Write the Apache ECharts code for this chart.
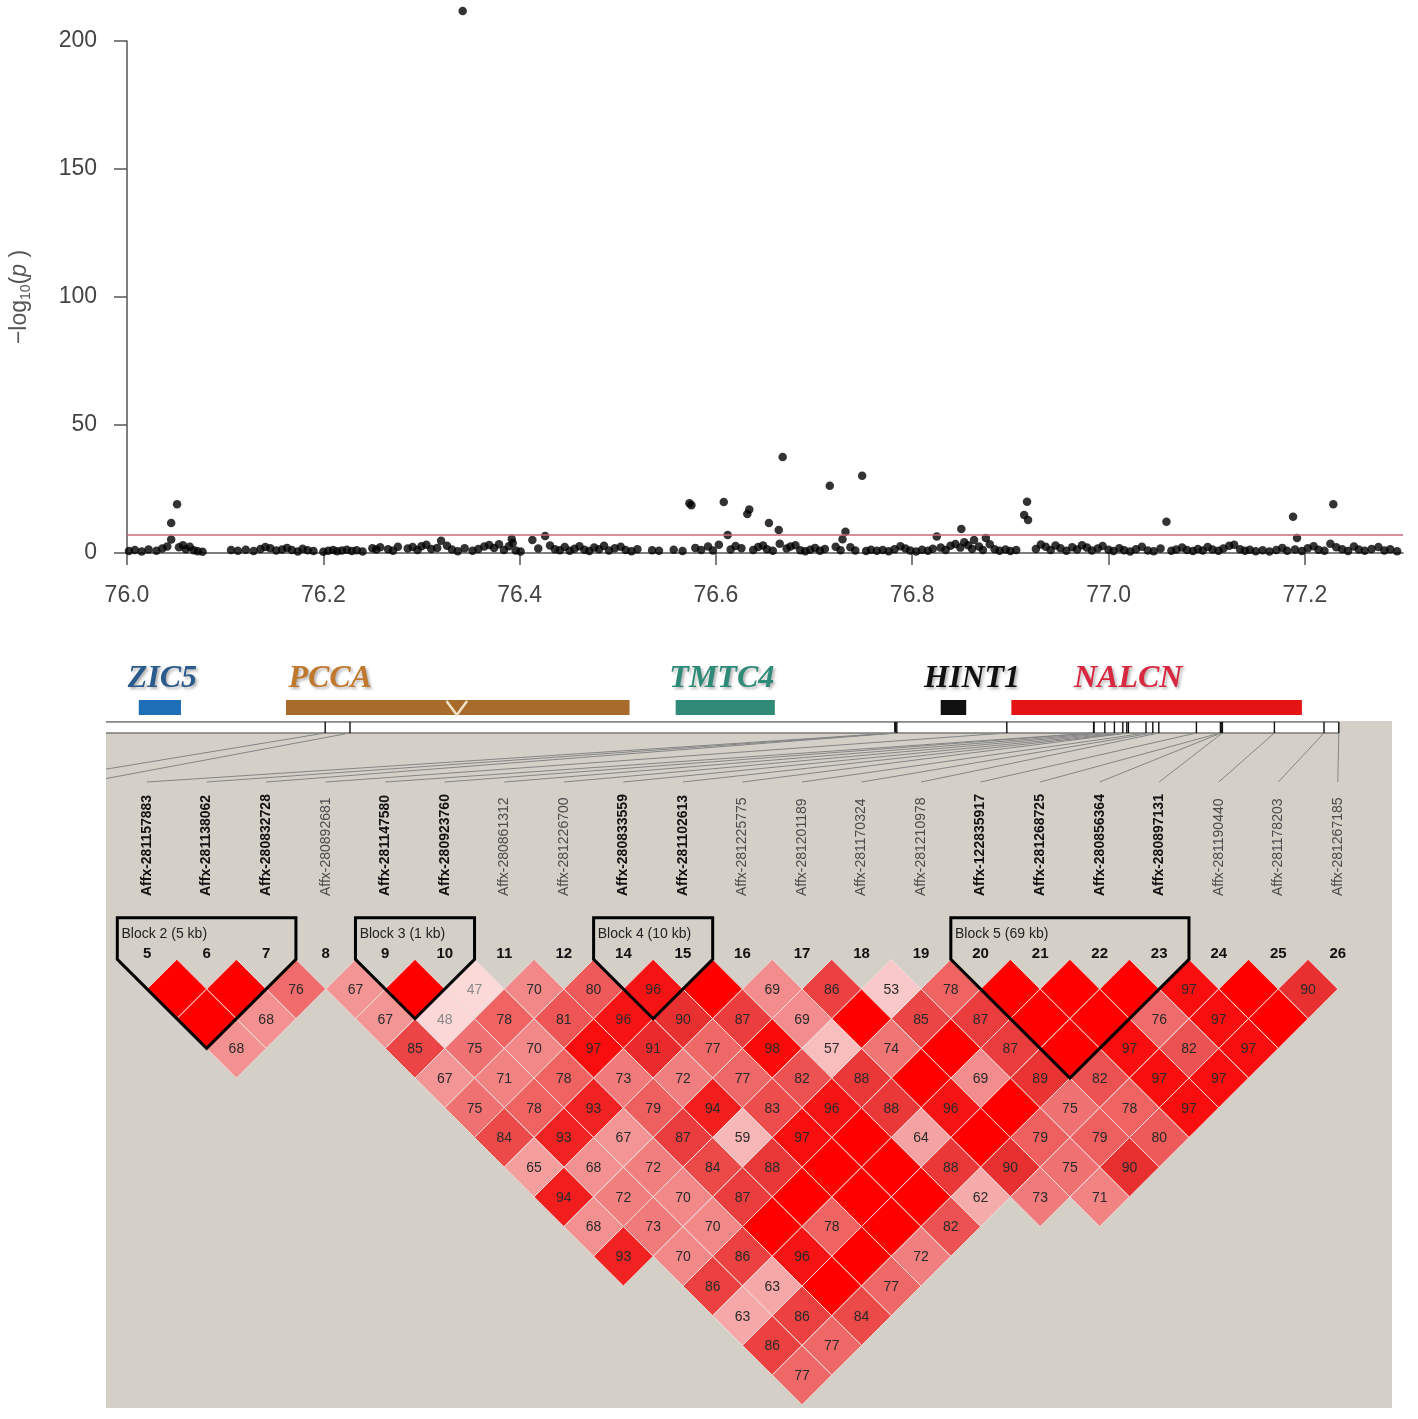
<!DOCTYPE html>
<html>
<head>
<meta charset="utf-8">
<title>Regional association and LD</title>
<script src="https://cdn.jsdelivr.net/npm/echarts@6/dist/echarts.min.js"></script>
<style>
  html, body { margin: 0; padding: 0; background: #fff; }
  #main { width: 1418px; height: 1419px; }
</style>
</head>
<body>
<div id="main"></div>
<script>
// ---- association scan: [position (Mb), -log10(p)] ----
var snps = [
  [76.002,0.8],[76.008,1.2],[76.015,0.6],[76.022,1.4],[76.030,0.9],[76.036,1.8],[76.041,2.5],
  [76.045,5.3],[76.045,11.7],[76.051,19.0],
  [76.053,2.2],[76.057,3.0],[76.060,1.5],[76.064,2.4],[76.068,1.1],[76.072,0.7],[76.077,0.5],
  [76.106,1.2],[76.113,0.9],[76.121,1.3],[76.129,0.8],[76.136,1.6],[76.141,2.3],[76.146,1.9],
  [76.152,1.0],[76.158,1.4],[76.163,2.0],[76.168,1.2],[76.174,0.6],[76.179,1.7],[76.184,1.1],[76.190,0.8],
  [76.200,0.5],[76.205,0.9],[76.210,1.2],[76.214,0.7],[76.219,1.0],[76.224,1.3],[76.229,0.8],[76.234,1.1],
  [76.240,0.6],[76.250,1.9],[76.254,1.4],[76.258,2.2],[76.266,1.5],[76.271,0.9],[76.276,2.4],
  [76.286,1.8],[76.291,2.3],[76.296,1.2],[76.300,2.6],[76.305,3.2],[76.310,1.6],[76.316,2.0],[76.320,4.8],
  [76.326,2.8],[76.331,1.4],[76.337,0.7],[76.342,211.7],[76.344,1.9],
  [76.352,0.9],[76.358,1.6],[76.364,2.5],[76.369,3.1],[76.374,2.0],[76.379,3.4],[76.384,1.2],[76.389,2.6],
  [76.392,5.5],[76.393,3.9],[76.396,1.0],[76.401,0.6],[76.413,5.1],[76.419,1.8],[76.426,6.6],
  [76.431,2.9],[76.436,1.5],[76.441,1.1],[76.446,2.3],[76.451,0.9],[76.456,1.7],[76.461,2.6],[76.466,1.3],
  [76.471,0.8],[76.476,2.1],[76.481,1.5],[76.486,2.8],[76.491,1.0],[76.497,1.9],[76.503,2.4],[76.508,1.2],
  [76.514,0.7],[76.520,1.5],[76.535,1.1],[76.542,0.9],[76.557,1.3],[76.566,0.8],
  [76.573,19.4],[76.575,18.7],[76.579,2.0],[76.585,1.2],[76.592,2.5],[76.597,1.0],[76.603,3.2],
  [76.608,19.9],[76.612,7.0],[76.615,1.4],[76.620,2.7],[76.626,1.9],[76.632,15.2],[76.634,17.0],
  [76.638,1.2],[76.643,2.3],[76.648,2.9],[76.652,1.5],[76.654,11.7],[76.658,0.9],[76.664,9.0],[76.665,3.6],
  [76.668,37.5],[76.672,1.8],[76.676,2.5],[76.681,3.0],[76.686,1.1],[76.691,0.7],[76.696,1.3],[76.701,2.0],
  [76.706,0.9],[76.711,1.6],[76.716,26.3],[76.722,2.4],[76.727,1.1],[76.729,5.4],[76.732,8.3],[76.737,2.2],
  [76.742,1.0],[76.749,30.2],[76.753,0.8],[76.758,1.3],[76.764,0.9],[76.770,1.2],[76.776,0.7],[76.782,1.5],
  [76.788,2.6],[76.793,1.8],[76.798,1.0],[76.804,0.6],[76.810,1.3],[76.816,0.9],[76.821,1.7],[76.825,6.4],
  [76.829,2.1],[76.834,1.2],[76.839,2.8],[76.844,3.5],[76.849,2.1],[76.850,9.4],[76.853,4.2],[76.857,3.0],
  [76.861,1.6],[76.863,5.1],[76.868,2.5],[76.872,1.2],[76.875,5.9],[76.879,3.4],[76.884,1.5],[76.889,0.9],
  [76.895,1.4],[76.900,0.8],[76.906,1.2],[76.914,14.8],[76.917,20.0],[76.918,12.9],
  [76.926,1.6],[76.931,3.3],[76.936,2.4],[76.941,1.2],[76.946,2.9],[76.951,1.9],[76.957,0.9],[76.963,2.2],
  [76.968,1.4],[76.973,3.0],[76.978,2.1],[76.983,1.0],[76.989,1.8],[76.994,2.7],[77.000,1.3],[77.005,0.8],
  [77.011,1.9],[77.016,1.1],[77.022,0.6],[77.028,1.5],[77.034,2.4],[77.040,1.0],[77.046,0.7],
  [77.053,1.8],[77.059,12.2],[77.064,0.9],[77.069,1.4],[77.075,2.1],[77.080,1.2],[77.086,0.8],[77.091,1.6],
  [77.096,1.0],[77.101,2.3],[77.106,1.4],[77.112,0.9],[77.117,1.8],[77.123,2.8],[77.128,3.2],[77.134,1.5],
  [77.139,0.9],[77.144,1.3],[77.150,0.7],[77.157,1.1],[77.164,0.6],[77.171,1.2],[77.177,2.0],[77.182,0.9],
  [77.188,14.2],[77.190,1.4],[77.192,5.9],[77.197,0.8],[77.203,1.9],[77.209,2.6],[77.214,1.3],[77.220,0.9],
  [77.226,3.6],[77.229,19.0],[77.232,2.2],[77.238,1.5],[77.244,0.8],[77.250,2.5],[77.255,1.4],[77.261,0.9],
  [77.268,1.6],[77.275,2.3],[77.281,1.0],[77.287,1.5],[77.294,0.7]
];
var threshold = 7.3;
var xTicks = [76.0, 76.2, 76.4, 76.6, 76.8, 77.0, 77.2];
var yTicks = [0, 50, 100, 150, 200];

// ---- genes (Mb) ----
var geneNames = ['ZIC5', 'PCCA', 'TMTC4', 'HINT1', 'NALCN'];
var geneStart = [76.012, 76.162, 76.559, 76.829, 76.901];
var geneEnd   = [76.055, 76.512, 76.660, 76.855, 77.197];
var geneLabelMb = [76.036, 76.207, 76.606, 76.861, 77.020];
var geneBarColors  = ['#1f6eb8', '#a86b2c', '#2f8a78', '#111111', '#e41414'];
var geneTextColors = ['#2b5a8c', '#c0772e', '#2f8a78', '#111111', '#d82840'];
var pccaNotchMb = 76.336;

// ---- LD markers ----
var markerIds = [5, 6, 7, 8, 9, 10, 11, 12, 14, 15, 16, 17, 18, 19, 20, 21, 22, 23, 24, 25, 26];
var markerNames = [
  'Affx-281157883', 'Affx-281138062', 'Affx-280832728', 'Affx-280892681', 'Affx-281147580',
  'Affx-280923760', 'Affx-280861312', 'Affx-281226700', 'Affx-280833559', 'Affx-281102613',
  'Affx-281225775', 'Affx-281201189', 'Affx-281170324', 'Affx-281210978', 'Affx-122835917',
  'Affx-281268725', 'Affx-280856364', 'Affx-280897131', 'Affx-281190440', 'Affx-281178203',
  'Affx-281267185'
];
// position of each marker along the map strip
var markerMapPos = [1972, 1974, 1977, 2252, 2469, 2470, 2497, 2521, 2542, 2552, 2556,
                    2600, 2617, 2632, 2726, 2786, 2788, 2791, 2921, 3045, 3082];
// markers 3 and 4 sit left of the shown range (columns -2 and -1)
var leftMarkerCols = [-2, -1];
var leftMarkerPos = [548, 610];

// D' (x100) between marker pairs; 100 = drawn without a number
var ldPairs = [
  [5,6,100],[6,7,100],[7,8,76],[8,9,67],[9,10,100],[10,11,47],[11,12,70],[12,14,80],[14,15,96],[15,16,100],
  [16,17,69],[17,18,86],[18,19,53],[19,20,78],[20,21,100],[21,22,100],[22,23,100],[23,24,97],[24,25,100],[25,26,90],
  [5,7,100],[6,8,68],[8,10,67],[9,11,48],[10,12,78],[11,14,81],[12,15,96],[14,16,90],[15,17,87],[16,18,69],
  [17,19,100],[18,20,85],[19,21,87],[20,22,100],[21,23,100],[22,24,76],[23,25,97],[24,26,100],
  [5,8,68],[8,11,85],[9,12,75],[10,14,70],[11,15,97],[12,16,91],[14,17,77],[15,18,98],[16,19,57],[17,20,74],
  [18,21,100],[19,22,87],[20,23,100],[21,24,97],[22,25,82],[23,26,97],
  [8,12,67],[9,14,71],[10,15,78],[11,16,73],[12,17,72],[14,18,77],[15,19,82],[16,20,88],[17,21,100],[18,22,69],
  [19,23,89],[20,24,82],[21,25,97],[22,26,97],
  [8,14,75],[9,15,78],[10,16,93],[11,17,79],[12,18,94],[14,19,83],[15,20,96],[16,21,88],[17,22,96],[18,23,100],
  [19,24,75],[20,25,78],[21,26,97],
  [8,15,84],[9,16,93],[10,17,67],[11,18,87],[12,19,59],[14,20,97],[15,21,100],[16,22,64],[17,23,100],[18,24,79],
  [19,25,79],[20,26,80],
  [8,16,65],[9,17,68],[10,18,72],[11,19,84],[12,20,88],[14,21,100],[15,22,100],[16,23,88],[17,24,90],[18,25,75],
  [19,26,90],
  [8,17,94],[9,18,72],[10,19,70],[11,20,87],[12,21,100],[14,22,100],[15,23,100],[16,24,62],[17,25,73],[18,26,71],
  [8,18,68],[9,19,73],[10,20,70],[11,21,100],[12,22,78],[14,23,100],[15,24,82],
  [8,19,93],[9,20,70],[10,21,86],[11,22,96],[12,23,100],[14,24,72],
  [9,21,86],[10,22,63],[11,23,100],[12,24,77],
  [9,22,63],[10,23,86],[11,24,84],
  [9,23,86],[10,24,77],
  [9,24,77]
];
var blockNames = ['Block 2 (5 kb)', 'Block 3 (1 kb)', 'Block 4 (10 kb)', 'Block 5 (69 kb)'];
var blockFirst = [5, 9, 14, 20];
var blockLast  = [7, 10, 15, 23];

// ---- layout of the LD panel (axis units) ----
var colMin = -0.69, colMax = 20.91;
var rowMin = -8.024, rowMax = 15.108;
var mapMin = 0, mapMax = 3215;
var ROW_STRIP_TOP = -7.99, ROW_STRIP_BOTTOM = -7.62, ROW_LINK_END = -5.97;
var ROW_NAME = -2.13, ROW_NUMBER = -0.2, ROW_BLOCK_TOP = -1.4, ROW_BLOCK_TITLE = -0.85;
var SANS = '"Liberation Sans", Arial, sans-serif';

function colIndex(id) { return markerIds.indexOf(id); }
function colToMap(k) { return mapMin + (k - colMin) * (mapMax - mapMin) / (colMax - colMin); }

var inBlock = markerIds.map(function (id) {
  for (var i = 0; i < blockFirst.length; i++) {
    if (id >= blockFirst[i] && id <= blockLast[i]) return true;
  }
  return false;
});

var cellData = ldPairs.map(function (p) { return [colIndex(p[0]), colIndex(p[1]), p[2]]; });
var linkData = [];
leftMarkerPos.forEach(function (pos, i) { linkData.push([pos, leftMarkerCols[i]]); });
markerMapPos.forEach(function (pos, k) { linkData.push([pos, k]); });

var myChart = echarts.init(document.getElementById('main'), null, { renderer: 'canvas' });

myChart.setOption({
  animation: false,
  backgroundColor: '#ffffff',
  grid: [
    { left: 127, right: 15, top: 41, bottom: 866, outerBoundsMode: 'none' },
    { left: 127, right: 15, top: 660, height: 60, outerBoundsMode: 'none' },
    { left: 106, top: 721, width: 1286, height: 687, show: true, backgroundColor: '#d4d0c8', borderWidth: 0, outerBoundsMode: 'none' }
  ],
  xAxis: [
    {
      gridIndex: 0, type: 'value', min: 76.0, max: 77.3, interval: 0.2,
      axisLine: { onZero: false, lineStyle: { color: '#555', width: 1.5 } },
      axisTick: { length: 12, customValues: xTicks, lineStyle: { color: '#555', width: 1.5 } },
      axisLabel: {
        margin: 31, customValues: xTicks, color: '#444', fontSize: 23, fontFamily: SANS,
        formatter: function (v) { return v.toFixed(1); }
      },
      splitLine: { show: false }
    },
    { gridIndex: 1, type: 'value', min: 76.0, max: 77.3, show: false },
    { gridIndex: 2, type: 'value', min: colMin, max: colMax, show: false },
    { gridIndex: 2, type: 'value', min: mapMin, max: mapMax, show: false }
  ],
  yAxis: [
    {
      gridIndex: 0, type: 'value', min: 0, max: 200, interval: 50,
      name: '{n|\u2212log}{s|10}{n|(}{i|p}{n| )}',
      nameLocation: 'middle', nameGap: 94, nameRotate: 90,
      nameTextStyle: {
        rich: {
          n: { fontSize: 23, color: '#555', fontFamily: SANS },
          s: { fontSize: 14, color: '#555', fontFamily: SANS, verticalAlign: 'bottom', lineHeight: 26 },
          i: { fontSize: 23, color: '#555', fontFamily: SANS, fontStyle: 'italic' }
        }
      },
      axisLine: { show: true, lineStyle: { color: '#555', width: 1.5 } },
      axisTick: { show: true, length: 13, customValues: yTicks, lineStyle: { color: '#555', width: 1.5 } },
      axisLabel: { margin: 30, customValues: yTicks, color: '#444', fontSize: 23, fontFamily: SANS },
      splitLine: { show: false }
    },
    { gridIndex: 1, type: 'value', min: 0, max: 60, inverse: true, show: false },
    { gridIndex: 2, type: 'value', min: rowMin, max: rowMax, inverse: true, show: false }
  ],
  visualMap: {
    type: 'continuous', show: false, seriesIndex: 4, dimension: 2, min: 40, max: 100,
    inRange: { color: ['#fdeaea', '#fad2d2', '#f7b4b4', '#f28888', '#ee5a5a', '#e93030', '#ff0000'] }
  },
  series: [
    {
      type: 'scatter', xAxisIndex: 0, yAxisIndex: 0, data: snps, clip: false,
      symbolSize: 8.5, itemStyle: { color: '#000' },
      markLine: {
        silent: true, symbol: 'none', label: { show: false },
        lineStyle: { color: '#c96a7a', width: 1.6, type: 'solid' },
        data: [{ yAxis: threshold }]
      }
    },
    {
      type: 'custom', xAxisIndex: 1, yAxisIndex: 1,
      data: geneNames.map(function (n, i) { return [geneStart[i], geneEnd[i], geneLabelMb[i]]; }),
      renderItem: function (params, api) {
        var i = params.dataIndex;
        var a = api.coord([api.value(0), 40]);
        var b = api.coord([api.value(1), 55]);
        var t = api.coord([api.value(2), 18.5]);
        var kids = [
          { type: 'rect', shape: { x: a[0], y: a[1], width: b[0] - a[0], height: b[1] - a[1] },
            style: { fill: geneBarColors[i] } },
          { type: 'text', x: t[0], y: t[1], style: {
              text: geneNames[i], fill: geneTextColors[i], fontSize: 32, fontWeight: 'bold', fontStyle: 'italic',
              fontFamily: '"Liberation Serif", "Times New Roman", serif', align: 'center', verticalAlign: 'middle',
              textShadowColor: 'rgba(0,0,0,0.3)', textShadowBlur: 3, textShadowOffsetX: 2, textShadowOffsetY: 2 } }
        ];
        if (geneNames[i] === 'PCCA') {
          var l = api.coord([pccaNotchMb - 0.0105, 41]);
          var m = api.coord([pccaNotchMb, 55]);
          var r = api.coord([pccaNotchMb + 0.0105, 41]);
          kids.push({ type: 'polyline', shape: { points: [l, m, r] },
            style: { stroke: '#efe2c6', lineWidth: 2.5, fill: null } });
        }
        return { type: 'group', children: kids };
      }
    },
    {
      // marker map strip
      type: 'custom', xAxisIndex: 3, yAxisIndex: 2, clip: true,
      data: [[mapMin, markerMapPos[markerMapPos.length - 1]]],
      renderItem: function (params, api) {
        var a = api.coord([api.value(0), ROW_STRIP_TOP]);
        var b = api.coord([api.value(1), ROW_STRIP_BOTTOM]);
        return { type: 'group', children: [
          { type: 'rect', shape: { x: a[0], y: a[1], width: b[0] - a[0], height: b[1] - a[1] },
            style: { fill: '#ffffff' } },
          { type: 'line', shape: { x1: a[0], y1: a[1], x2: b[0], y2: a[1] }, style: { stroke: '#444', lineWidth: 1 } },
          { type: 'line', shape: { x1: a[0], y1: b[1], x2: b[0], y2: b[1] }, style: { stroke: '#444', lineWidth: 1 } }
        ] };
      }
    },
    {
      // marker ticks and links to columns
      type: 'custom', xAxisIndex: 3, yAxisIndex: 2, clip: true,
      data: linkData,
      renderItem: function (params, api) {
        var pos = api.value(0), k = api.value(1);
        var t0 = api.coord([pos, ROW_STRIP_TOP]);
        var t1 = api.coord([pos, ROW_STRIP_BOTTOM]);
        var e = api.coord([colToMap(k), ROW_LINK_END]);
        return { type: 'group', children: [
          { type: 'line', shape: { x1: t1[0], y1: t1[1], x2: e[0], y2: e[1] }, style: { stroke: '#858585', lineWidth: 1 } },
          { type: 'line', shape: { x1: t0[0], y1: t0[1], x2: t1[0], y2: t1[1] }, style: { stroke: '#111', lineWidth: 1.4 } }
        ] };
      }
    },
    {
      // LD cells
      type: 'custom', xAxisIndex: 2, yAxisIndex: 2,
      data: cellData,
      renderItem: function (params, api) {
        var a = api.value(0), b = api.value(1), d = api.value(2);
        var cx = (a + b) / 2, r = b - a;
        var pts = [api.coord([cx, r - 1]), api.coord([cx + 0.5, r]), api.coord([cx, r + 1]), api.coord([cx - 0.5, r])];
        var c = api.coord([cx, r]);
        var kids = [{ type: 'polygon', shape: { points: pts },
          style: { fill: api.visual('color'), stroke: '#ecdcdc', lineWidth: 1 } }];
        if (d < 100) {
          kids.push({ type: 'text', x: c[0], y: c[1] + 1, style: {
            text: String(d), fill: d < 50 ? '#8a8a8a' : '#2a2a2a', fontSize: 14, fontFamily: SANS,
            align: 'center', verticalAlign: 'middle' } });
        }
        return { type: 'group', children: kids };
      }
    },
    {
      // marker numbers and names
      type: 'custom', xAxisIndex: 2, yAxisIndex: 2,
      data: markerIds.map(function (id, k) { return [k, 0]; }),
      renderItem: function (params, api) {
        var k = params.dataIndex;
        var n = api.coord([k, ROW_NUMBER]);
        var s = api.coord([k, ROW_NAME]);
        var bold = inBlock[k];
        return { type: 'group', children: [
          { type: 'text', x: n[0], y: n[1], style: {
              text: String(markerIds[k]), fill: '#111', fontSize: 15, fontWeight: 'bold', fontFamily: SANS,
              align: 'center', verticalAlign: 'middle' } },
          { type: 'text', x: s[0], y: s[1], rotation: Math.PI / 2, style: {
              text: markerNames[k], fill: bold ? '#111' : '#4a4a4a', fontSize: 14,
              fontWeight: bold ? 'bold' : 'normal', fontFamily: SANS,
              align: 'left', verticalAlign: 'middle' } }
        ] };
      }
    },
    {
      // haplotype block outlines
      type: 'custom', xAxisIndex: 2, yAxisIndex: 2,
      data: blockNames.map(function (n, i) { return [colIndex(blockFirst[i]), colIndex(blockLast[i])]; }),
      renderItem: function (params, api) {
        var a = api.value(0), b = api.value(1);
        var pts = [
          api.coord([a - 0.5, ROW_BLOCK_TOP]), api.coord([b + 0.5, ROW_BLOCK_TOP]),
          api.coord([b + 0.5, 0]), api.coord([(a + b) / 2, b - a + 1]), api.coord([a - 0.5, 0])
        ];
        var t = api.coord([a - 0.43, ROW_BLOCK_TITLE]);
        return { type: 'group', children: [
          { type: 'polygon', shape: { points: pts }, style: { fill: null, stroke: '#000', lineWidth: 3, lineJoin: 'miter' } },
          { type: 'text', x: t[0], y: t[1], style: {
              text: blockNames[params.dataIndex], fill: '#222', fontSize: 14, fontFamily: SANS,
              align: 'left', verticalAlign: 'middle' } }
        ] };
      }
    }
  ]
});
</script>
</body>
</html>
